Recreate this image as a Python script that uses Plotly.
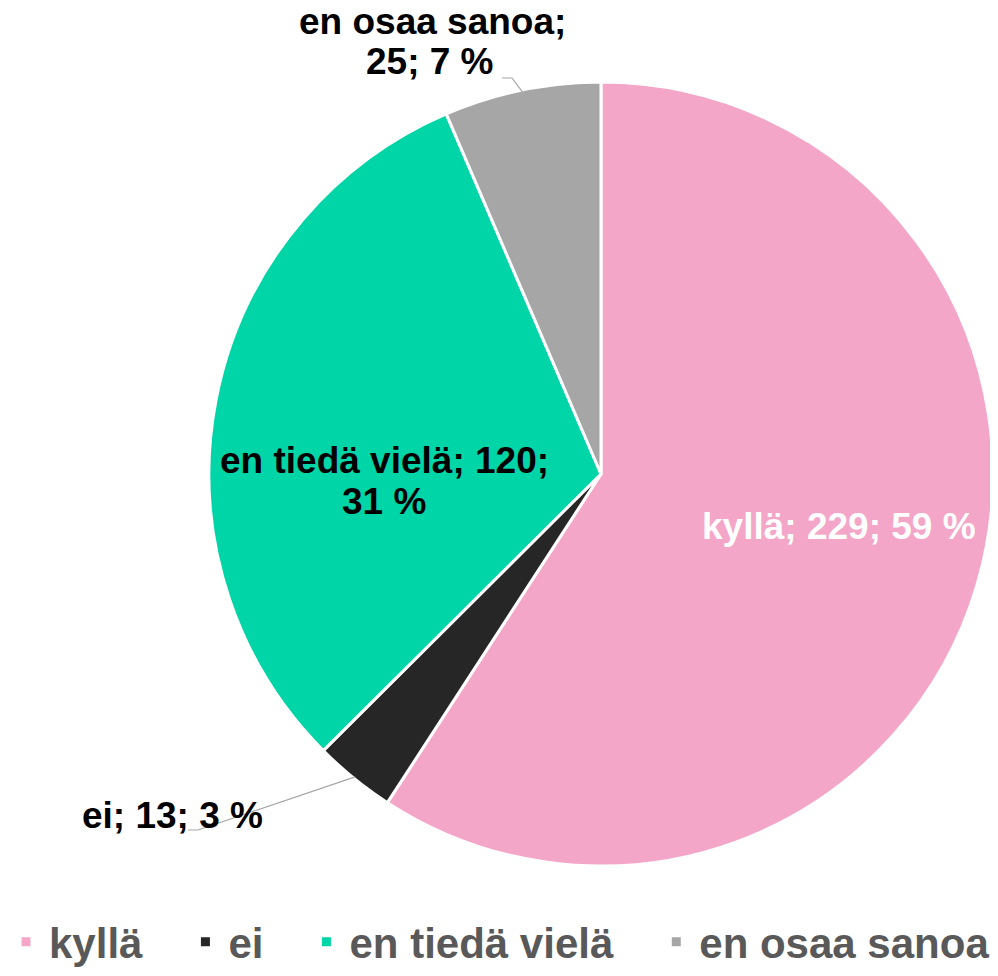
import math
import plotly.graph_objects as go

categories = ["kyllä", "ei", "en tiedä vielä", "en osaa sanoa"]
values = [229, 13, 120, 25]
percents = ["59 %", "3 %", "31 %", "7 %"]
colors = ["#F4A6C8", "#262626", "#00D5A7", "#A6A6A6"]

# page body has an 8px margin; work in window pixels and convert
OFF = 8
WIN_W, WIN_H = 998, 976
W, H = WIN_W - OFF, WIN_H - OFF


def px(x):
    return (x - OFF) / W


def py(y):
    return 1 - (y - OFF) / H


# pie circle in window pixels: centre (601, 474), radius 392
dom_x = [px(601 - 392), px(601 + 392)]
dom_y = [py(474 + 392), py(474 - 392)]

# legend entries keep a wider gap between them, as in the reference
legend_names = [c + "\u00a0" * 3 for c in categories[:-1]] + [categories[-1]]

fig = go.Figure(go.Pie(
    labels=legend_names,
    values=values,
    sort=False,
    direction="clockwise",
    rotation=0,
    marker=dict(colors=colors, line=dict(color="white", width=3)),
    textinfo="none",
    customdata=categories,
    hovertemplate="%{customdata}: %{value} (%{percent})<extra></extra>",
    domain=dict(x=dom_x, y=dom_y),
    automargin=False,
))

cx = (dom_x[0] + dom_x[1]) / 2 * W + OFF
cy = (1 - (dom_y[0] + dom_y[1]) / 2) * H + OFF
R = min((dom_x[1] - dom_x[0]) * W, (dom_y[1] - dom_y[0]) * H) / 2
total = sum(values)


def mid_point(i, frac=1.0):
    start = sum(values[:i])
    ang = (start + values[i] / 2) / total * 2 * math.pi
    return cx + R * frac * math.sin(ang), cy - R * frac * math.cos(ang)


label_font = dict(family="Liberation Sans, Arial", size=37, color="black", weight="bold")

# label lines built from the data (x-centre, y-centre in window pixels)
label_lines = [
    (839, 526, "white", f"{categories[0]}; {values[0]}; {percents[0]}"),
    (172, 815, "black", f"{categories[1]}; {values[1]}; {percents[1]}"),
    (384, 460, "black", f"{categories[2]}; {values[2]};"),
    (384, 501, "black", f"{percents[2]}"),
    (432, 21, "black", f"{categories[3]};"),
    (430, 62, "black", f"{values[3]}; {percents[3]}"),
]
for x, y, col, t in label_lines:
    f = dict(label_font)
    f["color"] = col
    fig.add_annotation(x=px(x), y=py(y), xref="paper", yref="paper", text=t,
                       showarrow=False, font=f, xanchor="center", yanchor="middle",
                       borderpad=0)

# leader lines from the slice edge to the outside labels
leaders = {
    3: [(512, 78), (502, 78)],
    1: [(198, 830), (188, 830)],
}
for i, pts in leaders.items():
    sx, sy = mid_point(i, 0.995)
    path_pts = [(sx, sy)] + pts
    path = "M " + " L ".join(f"{px(a)},{py(b)}" for a, b in path_pts)
    fig.add_shape(type="path", path=path, xref="paper", yref="paper",
                  line=dict(color="#A6A6A6", width=1.2))

fig.update_layout(
    width=W, height=H,
    margin=dict(l=0, r=0, t=0, b=0, autoexpand=False),
    paper_bgcolor="white",
    plot_bgcolor="white",
    showlegend=True,
    legend=dict(
        orientation="h", x=px(499), xanchor="center", y=0.0, yanchor="bottom",
        font=dict(family="Liberation Sans, Arial", size=42, color="#595959", weight="bold"),
        bgcolor="rgba(0,0,0,0)", itemwidth=36, traceorder="normal",
    ),
)

fig.write_html("out.html")
